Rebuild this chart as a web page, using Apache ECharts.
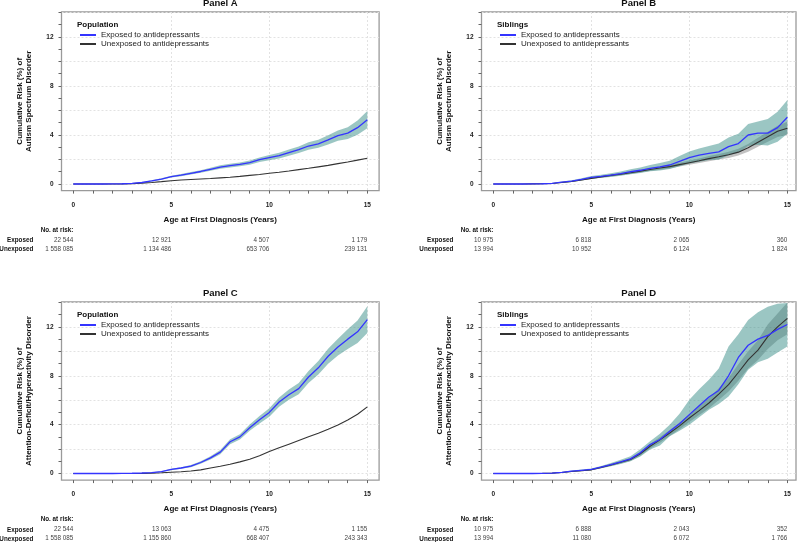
<!DOCTYPE html>
<html><head><meta charset="utf-8">
<script src="https://cdn.jsdelivr.net/npm/echarts@6/dist/echarts.min.js"></script>
<style>html,body{margin:0;padding:0;background:#fff}#c{width:800px;height:542px}</style>
</head><body><div id="c"></div>
<script>
// ---------------- DATA ----------------
const years = [0,0.5,1,1.5,2,2.5,3,3.5,4,4.5,5,5.5,6,6.5,7,7.5,8,8.5,9,9.5,10,10.5,11,11.5,12,12.5,13,13.5,14,14.5,15];
const xTickValues = [0,1,2,3,4,5,6,7,8,9,10,11,12,13,14,15];
const xLabelValues = [0,5,10,15];
const yTickValues = [0,1,2,3,4,5,6,7,8,9,10,11,12,13,14];
const yLabelValues = [0,4,8,12];
const xGridValues = [5,10,15];
const yGridValues = [0,2,4,6,8,10,12,14];

// Panel A: autism, population
const asdPopExp   = [0,0,0,0,0.01,0.02,0.05,0.12,0.25,0.4,0.6,0.72,0.87,1.02,1.2,1.38,1.5,1.6,1.74,1.98,2.15,2.32,2.56,2.8,3.1,3.28,3.6,3.95,4.15,4.6,5.25];
const asdPopExpLo = [0,0,0,0,0.01,0.02,0.03,0.09,0.2,0.34,0.52,0.63,0.77,0.91,1.08,1.24,1.35,1.44,1.57,1.79,1.94,2.09,2.31,2.53,2.8,2.95,3.23,3.53,3.67,4.02,4.55];
const asdPopExpHi = [0,0,0,0,0.01,0.02,0.07,0.15,0.3,0.46,0.68,0.81,0.97,1.13,1.32,1.52,1.65,1.76,1.91,2.17,2.36,2.55,2.81,3.07,3.4,3.61,3.97,4.37,4.63,5.18,5.95];
const asdPopUnexp = [0,0,0,0,0,0.01,0.03,0.07,0.12,0.19,0.27,0.32,0.37,0.41,0.45,0.5,0.55,0.62,0.7,0.78,0.87,0.96,1.06,1.17,1.28,1.4,1.52,1.66,1.8,1.95,2.1];

// Panel B: autism, siblings
const asdSibExp     = [0,0,0,0,0.01,0.02,0.05,0.15,0.24,0.38,0.54,0.62,0.72,0.85,1.0,1.12,1.28,1.4,1.55,1.85,2.15,2.35,2.5,2.62,3.05,3.3,4.0,4.15,4.15,4.6,5.45];
const asdSibExpLo   = [0,0,0,0,0,0.01,0.03,0.1,0.17,0.29,0.43,0.5,0.58,0.68,0.8,0.9,1.03,1.1,1.22,1.45,1.68,1.82,1.95,2.0,2.35,2.55,3.1,3.2,3.15,3.45,4.1];
const asdSibExpHi   = [0,0,0,0,0.02,0.03,0.07,0.2,0.31,0.47,0.65,0.75,0.87,1.02,1.2,1.35,1.55,1.72,1.9,2.28,2.65,2.9,3.1,3.3,3.8,4.1,4.9,5.1,5.3,5.9,6.85];
const asdSibUnexp   = [0,0,0,0,0.01,0.02,0.04,0.12,0.2,0.33,0.46,0.58,0.7,0.8,0.92,1.05,1.18,1.3,1.42,1.58,1.74,1.9,2.07,2.22,2.38,2.6,2.95,3.4,3.85,4.3,4.55];
const asdSibUnexpLo = [0,0,0,0,0,0.01,0.03,0.09,0.16,0.28,0.4,0.51,0.62,0.71,0.82,0.94,1.06,1.17,1.27,1.42,1.57,1.71,1.86,1.99,2.13,2.32,2.63,3.03,3.44,3.84,4.02];
const asdSibUnexpHi = [0,0,0,0,0.02,0.03,0.05,0.15,0.24,0.38,0.52,0.65,0.78,0.89,1.02,1.16,1.3,1.43,1.57,1.74,1.91,2.09,2.28,2.45,2.63,2.88,3.27,3.77,4.26,4.76,5.08];

// Panel C: ADHD, population
const adhdPopExp   = [0,0,0,0,0,0.01,0.02,0.04,0.08,0.15,0.33,0.45,0.6,0.9,1.28,1.75,2.6,3.0,3.75,4.4,5.0,5.85,6.45,6.95,7.9,8.65,9.6,10.35,11.0,11.6,12.6];
const adhdPopExpLo = [0,0,0,0,0,0.01,0.01,0.03,0.06,0.12,0.27,0.38,0.51,0.79,1.15,1.58,2.4,2.78,3.49,4.1,4.65,5.47,6.03,6.49,7.4,8.1,8.98,9.66,10.2,10.68,11.5];
const adhdPopExpHi = [0,0,0,0,0,0.01,0.03,0.05,0.1,0.18,0.39,0.52,0.69,1.01,1.41,1.92,2.8,3.22,4.01,4.7,5.35,6.23,6.87,7.41,8.4,9.2,10.22,11.04,11.8,12.52,13.7];
const adhdPopUnexp = [0,0,0,0,0,0,0,0.01,0.03,0.06,0.1,0.14,0.2,0.3,0.45,0.6,0.76,0.95,1.17,1.45,1.8,2.1,2.4,2.7,3.0,3.3,3.62,3.98,4.38,4.85,5.45];

// Panel D: ADHD, siblings
const adhdSibExp     = [0,0,0,0,0,0.01,0.03,0.09,0.19,0.26,0.33,0.52,0.73,0.95,1.2,1.69,2.37,2.78,3.46,4.08,4.82,5.55,6.26,6.8,8.0,9.5,10.5,11.0,11.3,11.8,12.2];
const adhdSibExpLo   = [0,0,0,0,0,0,0.02,0.06,0.14,0.2,0.26,0.42,0.6,0.78,1.0,1.4,1.96,2.3,3.05,3.5,4.0,4.6,5.22,5.7,6.3,7.3,8.5,9.1,9.4,9.9,10.4];
const adhdSibExpHi   = [0,0,0,0,0,0.02,0.04,0.12,0.24,0.32,0.4,0.62,0.86,1.12,1.41,1.98,2.64,3.26,4.0,4.9,6.04,6.9,7.67,8.6,10.4,11.4,12.57,13.2,13.66,13.9,13.95];
const adhdSibUnexp   = [0,0,0,0,0,0.01,0.03,0.08,0.16,0.22,0.3,0.5,0.7,0.92,1.15,1.62,2.23,2.75,3.32,3.9,4.54,5.15,5.77,6.5,7.27,8.27,9.3,10.1,11.2,12.0,12.7];
const adhdSibUnexpLo = [0,0,0,0,0,0,0.02,0.06,0.13,0.18,0.25,0.43,0.61,0.81,1.03,1.46,2.04,2.52,3.08,3.62,4.22,4.78,5.35,6.02,6.72,7.6,8.6,9.3,10.2,10.9,11.4];
const adhdSibUnexpHi = [0,0,0,0,0,0.02,0.04,0.1,0.19,0.26,0.35,0.57,0.79,1.03,1.27,1.78,2.42,2.98,3.56,4.18,4.86,5.52,6.19,6.98,7.82,8.94,10.0,10.9,12.2,13.1,14.0];

// Numbers at risk (at 0, 5, 10, 15 years)
const riskA_exposed   = ['22 544','12 921','4 507','1 179'];
const riskA_unexposed = ['1 558 085','1 134 486','653 706','239 131'];
const riskB_exposed   = ['10 975','6 818','2 065','360'];
const riskB_unexposed = ['13 994','10 952','6 124','1 824'];
const riskC_exposed   = ['22 544','13 063','4 475','1 155'];
const riskC_unexposed = ['1 558 085','1 155 860','668 407','243 343'];
const riskD_exposed   = ['10 975','6 888','2 043','352'];
const riskD_unexposed = ['13 994','11 080','6 072','1 766'];

const seriesNames = ['Exposed to antidepressants','Unexposed to antidepressants'];
const panelTitles = ['Panel A','Panel B','Panel C','Panel D'];
const groupTitles = ['Population','Siblings','Population','Siblings'];
const yNames = ['Cumulative Risk (%) of\nAutism Spectrum Disorder','Cumulative Risk (%) of\nAutism Spectrum Disorder',
  'Cumulative Risk (%) of\nAttention-Deficit/Hyperactivity Disorder','Cumulative Risk (%) of\nAttention-Deficit/Hyperactivity Disorder'];
const xName = 'Age at First Diagnosis (Years)';

// ---------------- CHART ----------------
const FONT = '"Liberation Sans", Arial, Helvetica, sans-serif';
const BLUE = '#3434ff', BLACK = '#333333';
const EXP_BAND = 'rgba(45,135,130,0.48)', UNEXP_BAND = 'rgba(110,110,110,0.42)';

const panels = [
  {left:61.5, top:12, width:317.6, xMax:15.6, exp:asdPopExp, lo:asdPopExpLo, hi:asdPopExpHi, un:asdPopUnexp, ulo:null, uhi:null, rE:riskA_exposed, rU:riskA_unexposed},
  {left:481.5, top:12, width:314.5, xMax:15.44, exp:asdSibExp, lo:asdSibExpLo, hi:asdSibExpHi, un:asdSibUnexp, ulo:asdSibUnexpLo, uhi:asdSibUnexpHi, rE:riskB_exposed, rU:riskB_unexposed},
  {left:61.5, top:302, width:317.6, xMax:15.6, exp:adhdPopExp, lo:adhdPopExpLo, hi:adhdPopExpHi, un:adhdPopUnexp, ulo:null, uhi:null, rE:riskC_exposed, rU:riskC_unexposed},
  {left:481.5, top:302, width:314.5, xMax:15.44, exp:adhdSibExp, lo:adhdSibExpLo, hi:adhdSibExpHi, un:adhdSibUnexp, ulo:adhdSibUnexpLo, uhi:adhdSibUnexpHi, rE:riskD_exposed, rU:riskD_unexposed}
];
const GH = 178.6, X_MIN = -0.6, Y_MIN = -0.54, Y_MAX = 14.04;

const grid = [], xAxis = [], yAxis = [], series = [], legend = [], graphic = [];
const pairs = (arr) => years.map((t, k) => [t, arr[k]]);

// band polygon through the axes' own scale
function bandSeries(xi, yi, lo, hi, color) {
  return {
    type:'custom', xAxisIndex:xi, yAxisIndex:yi, silent:true, animation:false,
    data: years.map((t, k) => [t, lo[k], hi[k]]),
    encode:{x:0, y:[1, 2]},
    renderItem: function (params, api) {
      if (params.dataIndex !== 0) return null;
      const pts = [];
      for (let k = 0; k < years.length; k++) pts.push(api.coord([years[k], lo[k]]));
      for (let k = years.length - 1; k >= 0; k--) pts.push(api.coord([years[k], hi[k]]));
      return {type:'polygon', shape:{points:pts}, style:{fill:color, stroke:null}};
    }
  };
}

panels.forEach((p, i) => {
  grid.push({left:p.left, top:p.top, width:p.width, height:GH, show:true, borderColor:'#9a9a9a', borderWidth:1.3, backgroundColor:'transparent', containLabel:false});
  const xi = i * 5, yi = i * 2;
  const xBase = {gridIndex:i, type:'value', min:X_MIN, max:p.xMax, position:'bottom', axisLine:{show:false, onZero:false}, splitLine:{show:false}};
  // main x axis
  xAxis.push(Object.assign({}, xBase, {
    axisTick:{show:true, customValues:xTickValues, length:3, lineStyle:{color:'#666', width:1}},
    axisLabel:{show:true, customValues:xLabelValues, fontSize:6.5, fontWeight:'bold', color:'#222', fontFamily:FONT, margin:11},
    name:xName, nameLocation:'middle', nameGap:24.8,
    nameTextStyle:{fontSize:8, fontWeight:'bold', color:'#111', fontFamily:FONT}
  }));
  // x grid lines
  xAxis.push(Object.assign({}, xBase, {
    axisTick:{show:false, customValues:xGridValues}, axisLabel:{show:false, customValues:xGridValues},
    splitLine:{show:true, lineStyle:{color:'#e2e2e2', width:1, type:[2,2]}}
  }));
  // risk table rows
  const rows = [
    {off:35.9, vals:[0], fmt:() => 'No. at risk:', bold:true},
    {off:45.9, vals:xLabelValues, fmt:(v) => p.rE[Math.round(v / 5)], bold:false},
    {off:54.9, vals:xLabelValues, fmt:(v) => p.rU[Math.round(v / 5)], bold:false}
  ];
  rows.forEach(r => {
    xAxis.push(Object.assign({}, xBase, {
      offset:r.off, axisTick:{show:false},
      axisLabel:{show:true, customValues:r.vals, formatter:r.fmt, align:'right', margin:0, fontSize:6.3, lineHeight:7,
        fontWeight:r.bold ? 'bold' : 'normal', color:r.bold ? '#111' : '#444', fontFamily:FONT}
    }));
  });
  // y axes
  const yBase = {gridIndex:i, type:'value', min:Y_MIN, max:Y_MAX, position:'left', axisLine:{show:false, onZero:false}, splitLine:{show:false}};
  yAxis.push(Object.assign({}, yBase, {
    axisTick:{show:true, customValues:yTickValues, length:3, lineStyle:{color:'#666', width:1}},
    axisLabel:{show:true, customValues:yLabelValues, fontSize:6.5, fontWeight:'bold', color:'#222', fontFamily:FONT, margin:8},
    name:yNames[i], nameLocation:'middle', nameGap:28,
    nameTextStyle:{fontSize:8, fontWeight:'bold', color:'#111', fontFamily:FONT, lineHeight:9}
  }));
  yAxis.push(Object.assign({}, yBase, {
    axisTick:{show:false, customValues:yGridValues}, axisLabel:{show:false, customValues:yGridValues},
    splitLine:{show:true, lineStyle:{color:'#e2e2e2', width:1, type:[2,2]}}
  }));

  const common = {type:'line', xAxisIndex:xi, yAxisIndex:yi, symbol:'none', showSymbol:false, silent:true, animation:false};
  if (p.ulo) series.push(bandSeries(xi, yi, p.ulo, p.uhi, UNEXP_BAND));
  series.push(bandSeries(xi, yi, p.lo, p.hi, EXP_BAND));
  series.push(Object.assign({}, common, {name:seriesNames[1], data:pairs(p.un), color:BLACK, lineStyle:{color:BLACK, width:1.1}}));
  series.push(Object.assign({}, common, {name:seriesNames[0], data:pairs(p.exp), color:BLUE, lineStyle:{color:BLUE, width:1.3}}));

  const legLeft = p.left + 18.5;
  legend.push({data:seriesNames, left:legLeft, top:p.top + 18.5, orient:'vertical', icon:'rect', itemWidth:16, itemHeight:2,
    itemGap:0, padding:0, selectedMode:false, textStyle:{fontSize:8, color:'#222', fontFamily:FONT, lineHeight:9}});

  graphic.push({type:'text', x:p.left + p.width / 2, y:p.top - 8.5,
    style:{text:panelTitles[i], font:'bold 9.5px ' + FONT, fill:'#111', textAlign:'center', textVerticalAlign:'middle'}});
  graphic.push({type:'text', x:legLeft - 3, y:p.top + 13,
    style:{text:groupTitles[i], font:'bold 8px ' + FONT, fill:'#111', textAlign:'left', textVerticalAlign:'middle'}});
  const labX = p.left + 11.8 - 40;
  graphic.push({type:'text', x:labX, y:p.top + GH + 49.4,
    style:{text:'Exposed', font:'bold 6.3px ' + FONT, fill:'#111', textAlign:'right', textVerticalAlign:'middle'}});
  graphic.push({type:'text', x:labX, y:p.top + GH + 58.4,
    style:{text:'Unexposed', font:'bold 6.3px ' + FONT, fill:'#111', textAlign:'right', textVerticalAlign:'middle'}});
});

const chart = echarts.init(document.getElementById('c'), null, {renderer:'canvas'});
chart.setOption({
  animation:false,
  backgroundColor:'#fff',
  textStyle:{fontFamily:FONT},
  grid, xAxis, yAxis, series, legend, graphic
});
</script>
</body></html>
